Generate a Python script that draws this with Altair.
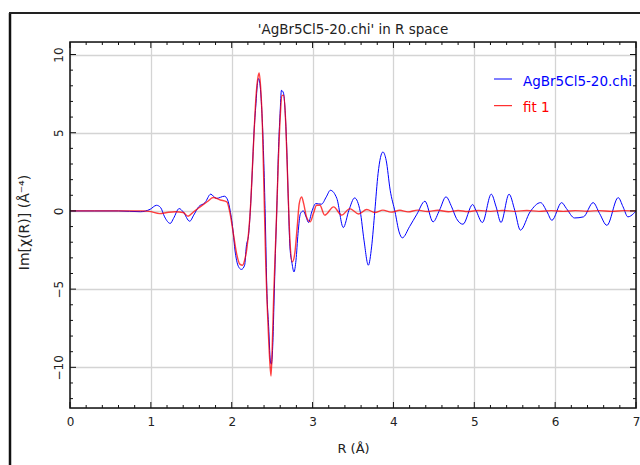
import altair as alt
import pandas as pd
import numpy as np

# ---- data ----
data_r = [0.0, 0.3, 0.6, 0.87, 0.99, 1.07, 1.12, 1.17, 1.24, 1.28, 1.35, 1.40, 1.48, 1.53, 1.59,
          1.67, 1.74, 1.81, 1.91, 1.95, 1.98, 2.00, 2.02, 2.04, 2.06, 2.09, 2.12, 2.16, 2.18,
          2.21, 2.235, 2.255, 2.275, 2.30, 2.316, 2.333, 2.353, 2.374, 2.395, 2.415, 2.436,
          2.457, 2.477, 2.49, 2.507, 2.524, 2.54, 2.561, 2.577, 2.598, 2.615, 2.64, 2.66, 2.68,
          2.70, 2.72, 2.746, 2.77, 2.795, 2.82, 2.85, 2.885, 2.92, 2.95, 2.99, 3.04, 3.11, 3.17,
          3.22, 3.30, 3.38, 3.45, 3.52, 3.59, 3.636, 3.69, 3.73, 3.77, 3.81, 3.87, 3.91, 3.96,
          4.02, 4.07, 4.11, 4.20, 4.29, 4.39, 4.49, 4.57, 4.65, 4.72, 4.78, 4.86, 4.98, 5.02,
          5.10, 5.21, 5.27, 5.33, 5.43, 5.50, 5.57, 5.69, 5.82, 5.90, 5.96, 6.08, 6.14, 6.24,
          6.35, 6.47, 6.55, 6.64, 6.78, 6.84, 6.90, 6.97, 7.00]
data_im = [0.0, 0.0, 0.0, -0.05, 0.1, 0.36, 0.22, -0.38, -0.8, -0.48, 0.15, -0.06, -0.66, -0.27, 0.26,
           0.53, 1.07, 0.8, 0.94, 0.7, 0.04, -0.6, -1.45, -2.5, -3.15, -3.62, -3.74, -3.47, -2.3,
           -1.45, 0.47, 2.6, 4.95, 6.86, 8.03, 8.46, 7.92, 6.22, 3.45, -0.38, -5.28,
           -7.41, -9.54, -9.8, -8.69, -5.7, -2.72, 0.68, 3.67, 6.22, 7.71, 7.54, 6.43, 4.09,
           0.68, -2.3, -3.36, -3.9, -3.15, -1.45, -0.17, 0.0, -0.38, -0.74, -0.06, 0.47, 0.43, 0.9,
           1.32, 0.8, -1.06, 0.05, 0.83, -0.06, -1.87, -3.47, -2.3, 0.0, 2.39, 3.77, 3.24, 1.32,
           -0.06, -1.34, -1.72, -1.0, -0.21, 0.62, -0.7, 0.05, 0.9, 0.26, -0.49, -0.85, 0.41, 0.05,
           -0.74, 1.07, 0.26, -0.74, 1.07, 0.05, -1.23, -0.06, 0.53, -0.06, -0.6, 0.53, 0.15, -0.45,
           -0.38, 0.53, -0.17, -0.92, 0.85, 0.26, -0.38, -0.17, 0.0]

fit_r = [0.0, 0.5, 0.9, 0.98, 1.11, 1.2, 1.3, 1.40, 1.46, 1.53, 1.61, 1.70, 1.77, 1.86, 1.94,
         1.98, 2.02, 2.06, 2.10, 2.135, 2.16, 2.19, 2.23, 2.27, 2.30, 2.325, 2.34, 2.36, 2.38,
         2.40, 2.42, 2.45, 2.47, 2.486, 2.50, 2.52, 2.55, 2.577, 2.60, 2.62, 2.645, 2.67, 2.695,
         2.72, 2.75, 2.78, 2.81, 2.835, 2.865, 2.89, 2.925, 2.97, 3.01, 3.05, 3.09, 3.15, 3.26,
         3.36, 3.46, 3.57, 3.67, 3.77, 3.87, 3.97, 4.08, 4.18, 4.3, 4.42, 4.55, 4.68, 4.8, 4.92,
         5.05, 5.2, 5.35, 5.5, 5.65, 5.8, 5.95, 6.1, 6.25, 6.4, 6.55, 6.7, 6.85, 7.0]
fit_im = [0.0, 0.0, 0.0, -0.03, -0.17, -0.1, -0.05, -0.1, -0.34, -0.05, 0.26, 0.6, 0.86, 0.7, 0.58,
          -0.17, -1.45, -2.72, -3.4, -3.47, -3.15, -2.3, 0.04, 4.3, 7.28, 8.56, 8.82, 7.71, 5.37,
          1.11, -3.15, -7.41, -9.54, -10.56, -8.9, -5.28, -1.02, 3.24, 6.0, 7.39, 7.39, 5.37, 1.53,
          -1.87, -3.26, -2.72, -1.02, 0.47, 0.9, 0.47, -0.38, -0.7, -0.17, 0.36, 0.36, -0.27, 0.26,
          -0.27, 0.15, -0.2, 0.09, -0.1, 0.05, -0.08, 0.04, -0.06, 0.05, -0.04, 0.04, -0.05, 0.03, -0.04,
          0.03, -0.03, 0.03, -0.03, 0.03, -0.03, 0.02, -0.03, 0.02, -0.02, 0.02, -0.03, 0.02, 0.0]

x_major = [0, 1, 2, 3, 4, 5, 6, 7]
y_major = [-10, -5, 0, 5, 10]
x_minor = [round(v, 1) for v in np.arange(0, 7.01, 0.2) if abs(v - round(v)) > 1e-6]
y_minor = [v for v in range(-12, 11) if v % 5 != 0]

title_text = "'AgBr5Cl5-20.chi' in R space"
legend_data = "AgBr5Cl5-20.chi"
legend_fit = "fit 1"

W, H = 566, 366
FONT = "DejaVu Sans"

df_data = pd.DataFrame({"R": data_r, "v": data_im})
df_fit = pd.DataFrame({"R": fit_r, "v": fit_im})
df_xmaj = pd.DataFrame({"R": x_major})
df_xmin = pd.DataFrame({"R": x_minor})
df_ymaj = pd.DataFrame({"v": y_major})
df_ymin = pd.DataFrame({"v": y_minor})
one = pd.DataFrame({"k": [0]})

xs = alt.Scale(domain=[0, 7], nice=False)
ys = alt.Scale(domain=[-12.6, 10.8], nice=False)

base_x = alt.X("R:Q", scale=xs, title="R (Å)",
               axis=alt.Axis(values=x_major, format="d", tickSize=0, domain=False, grid=True,
                             gridColor="#d4d4d4", gridWidth=1.3, labelPadding=8, labelFlush=False,
                             labelFont=FONT, labelFontSize=12, labelColor="#222",
                             titleFont=FONT, titleFontSize=13, titleFontWeight="normal",
                             titleColor="#222", titleY=40, titleBaseline="middle"))
base_y = alt.Y("v:Q", scale=ys, title="Im[χ(R)] (Å⁻⁴)",
               axis=alt.Axis(values=y_major, tickSize=0, domain=False, grid=True,
                             gridColor="#d4d4d4", gridWidth=1.3, labelAngle=270, labelFlush=False,
                             labelAlign="center", labelBaseline="alphabetic", labelPadding=8,
                             labelFont=FONT, labelFontSize=12, labelColor="#222",
                             titleFont=FONT, titleFontSize=14, titleFontWeight="normal",
                             titleColor="#222", titleAngle=270, titleX=-46, titleY=180,
                             titleAlign="center", titleBaseline="middle"))

data_line = alt.Chart(df_data).mark_line(color="#0000ff", strokeWidth=1, interpolate="monotone").encode(
    x=base_x, y=base_y)
fit_line = alt.Chart(df_fit).mark_line(color="#ff0000", strokeWidth=1.4, opacity=0.75,
                                       interpolate="monotone").encode(
    x=alt.X("R:Q", scale=xs), y=alt.Y("v:Q", scale=ys))

tc = "#111"
ticks = [
    alt.Chart(df_xmaj).mark_rule(color=tc).encode(x=alt.X("R:Q", scale=xs), y=alt.value(H), y2=alt.value(H - 6)),
    alt.Chart(df_xmin).mark_rule(color=tc).encode(x=alt.X("R:Q", scale=xs), y=alt.value(H), y2=alt.value(H - 3)),
    alt.Chart(df_xmaj).mark_rule(color=tc).encode(x=alt.X("R:Q", scale=xs), y=alt.value(0), y2=alt.value(6)),
    alt.Chart(df_xmin).mark_rule(color=tc).encode(x=alt.X("R:Q", scale=xs), y=alt.value(0), y2=alt.value(3)),
    alt.Chart(df_ymaj).mark_rule(color=tc).encode(y=alt.Y("v:Q", scale=ys), x=alt.value(0), x2=alt.value(6)),
    alt.Chart(df_ymin).mark_rule(color=tc).encode(y=alt.Y("v:Q", scale=ys), x=alt.value(0), x2=alt.value(3)),
    alt.Chart(df_ymaj).mark_rule(color=tc).encode(y=alt.Y("v:Q", scale=ys), x=alt.value(W), x2=alt.value(W - 6)),
    alt.Chart(df_ymin).mark_rule(color=tc).encode(y=alt.Y("v:Q", scale=ys), x=alt.value(W), x2=alt.value(W - 3)),
]

frame = alt.Chart(one).mark_rect(fill=None, stroke="#111", strokeWidth=1.5).encode(
    x=alt.value(0), x2=alt.value(W), y=alt.value(0), y2=alt.value(H))
outer_left = alt.Chart(one).mark_rule(color="#111", strokeWidth=2.5).encode(
    x=alt.value(-60), y=alt.value(-29), y2=alt.value(H + 60))
outer_top = alt.Chart(one).mark_rule(color="#222", strokeWidth=2).encode(
    x=alt.value(-61), x2=alt.value(W + 10), y=alt.value(-29))

title_mark = alt.Chart(one).mark_text(text=title_text, color="#222", font=FONT, fontSize=13.5,
                                      align="center", baseline="middle").encode(
    x=alt.value(W / 2), y=alt.value(-12))

leg_blue_line = alt.Chart(one).mark_rule(color="#0000ff", strokeWidth=1).encode(
    x=alt.value(424), x2=alt.value(442), y=alt.value(37))
leg_red_line = alt.Chart(one).mark_rule(color="#ff0000", strokeWidth=1).encode(
    x=alt.value(424), x2=alt.value(442), y=alt.value(63.7))
leg_blue_text = alt.Chart(one).mark_text(text=legend_data, color="#0000ff", font=FONT, fontSize=13.5,
                                         align="left", baseline="middle", clip=True).encode(
    x=alt.value(453), y=alt.value(39.5))
leg_red_text = alt.Chart(one).mark_text(text=legend_fit, color="#ff0000", font=FONT, fontSize=13.5,
                                        align="left", baseline="middle").encode(
    x=alt.value(453), y=alt.value(66))

chart = alt.layer(
    data_line, fit_line, *ticks, frame, outer_left, outer_top, title_mark,
    leg_blue_line, leg_red_line, leg_blue_text, leg_red_text
).properties(
    width=W, height=H,
    autosize=alt.AutoSizeParams(type="none"),
    padding={"left": 70, "top": 42, "right": 4, "bottom": 57},
).configure_view(stroke=None).configure(background="white")

chart.save("out.html", embed_options={"renderer": "svg", "actions": False})
